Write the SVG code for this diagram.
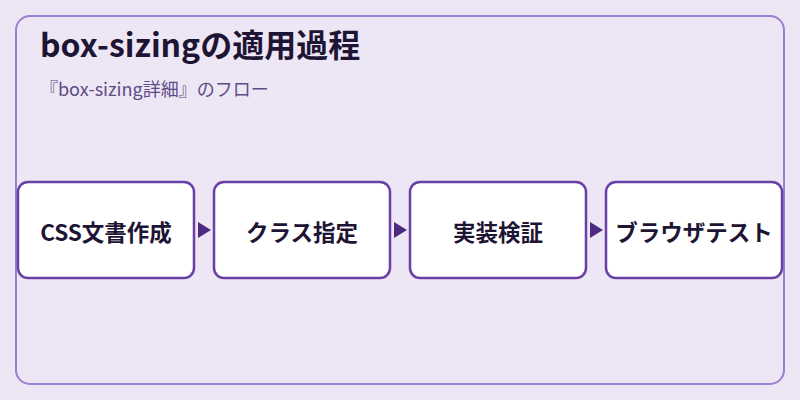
<svg xmlns="http://www.w3.org/2000/svg" width="800" height="400" viewBox="0 0 800 400">
<style>
.frame{fill:#ede6f5;stroke:#9b7fd0;stroke-width:2}
.box{fill:#ffffff;stroke:#6a40a6;stroke-width:2.5}
.lbl{font-family:"Noto Sans CJK JP","Noto Sans",sans-serif;font-size:22.5px;font-weight:700;fill:#1e1433;text-anchor:middle;dominant-baseline:central}
.title{font-family:"Noto Sans CJK JP","Noto Sans",sans-serif;font-size:32px;font-weight:700;fill:#1e1433}
.sub{font-family:"Noto Sans CJK JP","Noto Sans",sans-serif;font-size:18px;fill:#5e4c86}
.arrow{fill:#4b2a80}
</style>
<rect width="800" height="400" fill="#ede6f5"/>
<rect class="frame" x="16" y="16" width="768" height="368" rx="14"/>
<text class="title" x="40" y="57">box-sizingの適用過程</text>
<text class="sub" x="40" y="96">『box-sizing詳細』のフロー</text>
<g id="connectors">
<path class="arrow" d="M198,222 L211,230 L198,238 Z"/>
<path class="arrow" d="M394,222 L407,230 L394,238 Z"/>
<path class="arrow" d="M590,222 L603,230 L590,238 Z"/>
</g>
<g id="node1"><rect class="box" x="18" y="182" width="176" height="96" rx="10"/><text class="lbl" x="106" y="231">CSS文書作成</text></g>
<g id="node2"><rect class="box" x="214" y="182" width="176" height="96" rx="10"/><text class="lbl" x="302" y="231">クラス指定</text></g>
<g id="node3"><rect class="box" x="410" y="182" width="176" height="96" rx="10"/><text class="lbl" x="498" y="231">実装検証</text></g>
<g id="node4"><rect class="box" x="606" y="182" width="176" height="96" rx="10"/><text class="lbl" x="694" y="231">ブラウザテスト</text></g>
</svg>
